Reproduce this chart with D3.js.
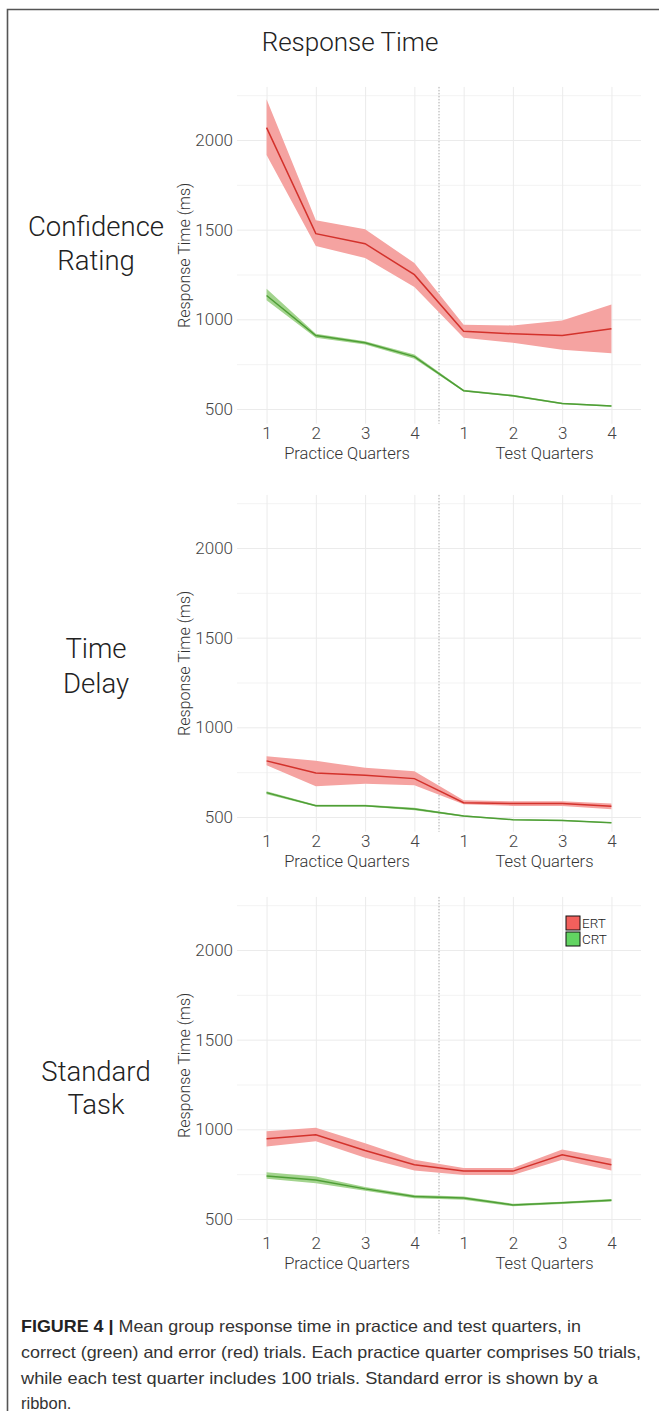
<!DOCTYPE html>
<html>
<head>
<meta charset="utf-8">
<script src="https://cdn.jsdelivr.net/npm/d3@7"></script>
<style>
  html, body { margin: 0; padding: 0; background: #fff; }
  svg { display: block; }
</style>
</head>
<body>
<svg id="chart" width="659" height="1411"></svg>
<script>
// ---------- data ----------
const quarters = ["1", "2", "3", "4", "1", "2", "3", "4"];
const panels = ["Confidence Rating", "Time Delay", "Standard Task"];
const series = ["ERT", "CRT"];
const yTicks = [500, 1000, 1500, 2000];
const yMinorTicks = [750, 1250, 1750, 2250];

const confERT   = [2069, 1478, 1422, 1249, 934, 919, 910, 947];
const confERTlo = [1916, 1409, 1342, 1180, 897, 869, 830, 811];
const confERThi = [2227, 1553, 1502, 1314, 970, 966, 994, 1083];
const confCRT   = [1133, 910, 869, 792, 602, 574, 531, 517];
const confCRTlo = [1106, 897, 860, 780, 597, 569, 527, 513];
const confCRThi = [1171, 919, 878, 804, 607, 579, 535, 521];

const delayERT   = [813, 746, 733, 714, 580, 575, 575, 560];
const delayERTlo = [789, 671, 686, 677, 571, 562, 562, 543];
const delayERThi = [839, 813, 774, 755, 593, 588, 588, 575];
const delayCRT   = [636, 563, 563, 545, 506, 485, 481, 468];
const delayCRTlo = [627, 558, 558, 538, 502, 482, 478, 465];
const delayCRThi = [643, 568, 568, 552, 510, 488, 484, 471];

const stdERT   = [947, 970, 882, 802, 767, 767, 858, 802];
const stdERTlo = [904, 934, 841, 770, 746, 746, 830, 770];
const stdERThi = [990, 1009, 923, 830, 785, 785, 888, 836];
const stdCRT   = [740, 718, 668, 625, 617, 578, 590, 604];
const stdCRTlo = [724, 699, 657, 616, 608, 571, 584, 597];
const stdCRThi = [761, 737, 679, 634, 626, 585, 596, 611];

const captionLines = [
  "Mean group response time in practice and test quarters, in",
  "correct (green) and error (red) trials. Each practice quarter comprises 50 trials,",
  "while each test quarter includes 100 trials. Standard error is shown by a",
  "ribbon."
];

// ---------- layout ----------
const svg = d3.select("#chart");
const font = "Roboto, 'Noto Sans', sans-serif";
const colors = {
  ERT: { ribbon: "#F5A3A1", line: "#D3322C", key: "#F2605C" },
  CRT: { ribbon: "#A3D48E", line: "#4E9E36", key: "#62D462" }
};

// frame
svg.append("path")
  .attr("d", "M7.5,1411 L7.5,9.5 L659,9.5")
  .attr("fill", "none").attr("stroke", "#555").attr("stroke-width", 1.6);

svg.append("text")
  .attr("x", 350).attr("y", 51)
  .attr("text-anchor", "middle")
  .attr("font-family", font).attr("font-weight", 300)
  .attr("font-size", 26).attr("fill", "#222")
  .text("Response Time");

const x = d3.scaleLinear().domain([0.4, 8.6]).range([237, 641]);
const panelY2000 = [140, 548, 950];
const unitPx = 269; // px between 500 and 2000
const domainLo = 418, domainHi = 2296;
const labelY = [[226, 260], [648, 683], [1071, 1104]];

const panelData = [
  { ERT: [confERT, confERTlo, confERThi], CRT: [confCRT, confCRTlo, confCRThi] },
  { ERT: [delayERT, delayERTlo, delayERThi], CRT: [delayCRT, delayCRTlo, delayCRThi] },
  { ERT: [stdERT, stdERTlo, stdERThi], CRT: [stdCRT, stdCRTlo, stdCRThi] }
];

panels.forEach((name, pi) => {
  const y = d3.scaleLinear().domain([500, 2000])
    .range([panelY2000[pi] + unitPx, panelY2000[pi]]);
  const top = y(domainHi), bottom = y(domainLo);
  const g = svg.append("g");

  // minor gridlines
  g.append("g").attr("transform", `translate(${x.range()[0]},0)`)
    .call(d3.axisLeft(y).tickValues(yMinorTicks).tickSize(-(x.range()[1] - x.range()[0])).tickFormat(""))
    .call(s => s.select(".domain").remove())
    .call(s => s.selectAll("line").attr("stroke", "#f0f0f0").attr("stroke-width", 0.8));
  // vertical gridlines
  g.append("g").attr("transform", `translate(0,${bottom})`)
    .call(d3.axisBottom(x).tickValues(d3.range(1, 9)).tickSize(-(bottom - top)).tickFormat(""))
    .call(s => s.select(".domain").remove())
    .call(s => s.selectAll("line").attr("stroke", "#ebebeb").attr("stroke-width", 1));
  // major gridlines + labels
  g.append("g").attr("transform", `translate(${x.range()[0]},0)`)
    .call(d3.axisLeft(y).tickValues(yTicks).tickSize(-(x.range()[1] - x.range()[0])).tickPadding(4)
      .tickFormat(d3.format("d")))
    .call(s => s.select(".domain").remove())
    .call(s => s.selectAll("line").attr("stroke", "#ebebeb").attr("stroke-width", 1))
    .call(s => s.selectAll("text").attr("font-family", font).attr("font-weight", 300)
      .attr("font-size", 17).attr("fill", "#444"));

  // x tick labels
  g.append("g").attr("transform", `translate(0,${bottom})`)
    .call(d3.axisBottom(x).tickValues(d3.range(1, 9)).tickSize(0).tickPadding(3.5)
      .tickFormat((d, i) => quarters[i]))
    .call(s => s.select(".domain").remove())
    .call(s => s.selectAll("text").attr("font-family", font).attr("font-weight", 300)
      .attr("font-size", 17).attr("fill", "#444"));

  // x axis titles
  g.append("text").attr("x", 347).attr("y", bottom + 35)
    .attr("text-anchor", "middle").attr("font-family", font).attr("font-weight", 300)
    .attr("font-size", 16.5).attr("fill", "#333").text("Practice Quarters");
  g.append("text").attr("x", 544.5).attr("y", bottom + 35)
    .attr("text-anchor", "middle").attr("font-family", font).attr("font-weight", 300)
    .attr("font-size", 16.5).attr("fill", "#333").text("Test Quarters");

  // y axis title
  g.append("text")
    .attr("transform", `translate(190,${(top + bottom) / 2}) rotate(-90)`)
    .attr("text-anchor", "middle").attr("font-family", font).attr("font-weight", 300)
    .attr("font-size", 16).attr("fill", "#333").text("Response Time (ms)");

  // row label
  const words = name.split(" ");
  words.forEach((w, wi) => {
    g.append("text").attr("x", 96).attr("y", labelY[pi][wi] + 9.5)
      .attr("text-anchor", "middle").attr("font-family", font).attr("font-weight", 300)
      .attr("font-size", 27.5).attr("fill", "#222").text(w);
  });

  // dotted separator
  g.append("line").attr("x1", x(4.5)).attr("x2", x(4.5))
    .attr("y1", top).attr("y2", bottom)
    .attr("stroke", "#aaa").attr("stroke-width", 1).attr("stroke-dasharray", "1.5,1.5");

  // ribbons and lines
  series.forEach(sn => {
    const [mean, lo, hi] = panelData[pi][sn];
    const idx = d3.range(quarters.length);
    g.append("path").datum(idx)
      .attr("d", d3.area().x(i => x(i + 1)).y0(i => y(lo[i])).y1(i => y(hi[i])))
      .attr("fill", colors[sn].ribbon);
    g.append("path").datum(idx)
      .attr("d", d3.line().x(i => x(i + 1)).y(i => y(mean[i])))
      .attr("fill", "none").attr("stroke", colors[sn].line).attr("stroke-width", 1.5);
  });

  // legend in last panel
  if (pi === 2) {
    series.forEach((sn, si) => {
      g.append("rect").attr("x", 566).attr("y", 916 + si * 16)
        .attr("width", 14).attr("height", 14)
        .attr("fill", colors[sn].key).attr("stroke", "#111").attr("stroke-width", 1);
      g.append("text").attr("x", 582).attr("y", 923 + si * 16)
        .attr("dy", "0.36em").attr("font-family", font).attr("font-weight", 300)
        .attr("font-size", 13.5).attr("fill", "#222").text(sn);
    });
  }
});

// caption
const capFont = "'Liberation Sans', Arial, sans-serif";
const capY = [1332, 1358, 1384, 1409];
const capLen = [560, 620, 577, null];
captionLines.forEach((line, i) => {
  const t = svg.append("text").attr("x", 21).attr("y", capY[i])
    .attr("font-family", capFont).attr("font-size", 16.5).attr("fill", "#333");
  if (i === 0) {
    t.append("tspan").attr("font-weight", "bold").attr("fill", "#222").text("FIGURE 4 | ");
  }
  t.append("tspan").text(line);
  if (capLen[i]) t.attr("textLength", capLen[i]).attr("lengthAdjust", "spacingAndGlyphs");
});
</script>
</body>
</html>
